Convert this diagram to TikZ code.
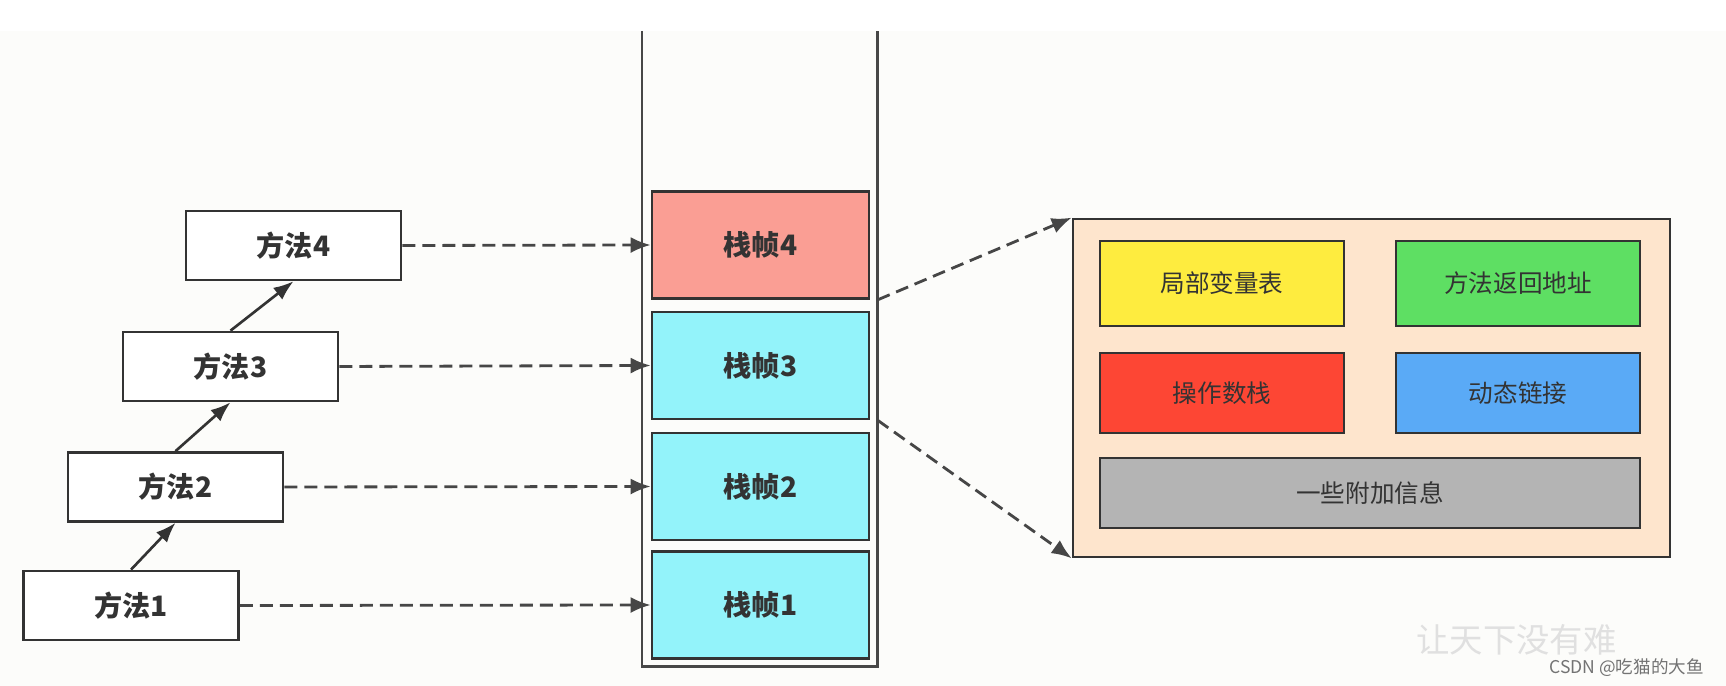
\documentclass[tikz,border=0pt]{standalone}
\usepackage{fontspec}
\newfontfamily\cjk{Noto Sans CJK SC}
\usetikzlibrary{arrows.meta,positioning,calc}
\definecolor{lineColor}{RGB}{51,51,51}
\definecolor{dashColor}{RGB}{70,70,70}
\definecolor{pageBg}{RGB}{252,252,250}
\definecolor{frameTop}{RGB}{250,158,148}
\definecolor{frameCyan}{RGB}{147,243,250}
\definecolor{panelBg}{RGB}{254,229,205}
\definecolor{localYellow}{RGB}{254,236,63}
\definecolor{returnGreen}{RGB}{94,223,99}
\definecolor{operandRed}{RGB}{253,70,52}
\definecolor{linkBlue}{RGB}{90,170,246}
\definecolor{extraGray}{RGB}{180,180,180}

\begin{document}
\begin{tikzpicture}[
  font=\cjk,
  methodbox/.style={draw=lineColor, fill=white, line width=1.5pt, minimum width=4.3cm, minimum height=1.38cm, font=\cjk\bfseries\fontsize{16}{18}\selectfont, text=lineColor},
  framebox/.style={draw=lineColor, line width=1.5pt, minimum width=4.34cm, minimum height=2.14cm, font=\cjk\bfseries\fontsize{16}{18}\selectfont, text=lineColor},
  slotbox/.style={draw=lineColor, line width=1.5pt, minimum width=4.88cm, minimum height=1.7cm, font=\cjk\fontsize{14}{16}\selectfont, text=lineColor},
  call/.style={-{Latex[length=4mm, width=3mm]}, line width=1.5pt, draw=lineColor},
  link/.style={-{Latex[length=4mm, width=3.2mm]}, line width=1.6pt, draw=dashColor, dash pattern=on 0.26cm off 0.14cm}
]
\useasboundingbox (0,0) rectangle (34.52,13.72);
\fill[white] (0,0) rectangle (34.52,13.72);
\fill[pageBg] (0,0) rectangle (34.52,13.10);

% Stack
\node[minimum width=4.7cm, minimum height=12.7cm, anchor=north west, inner sep=0pt] (stack) at (12.84,13.10) {};
\draw[draw=black!72, line width=1.4pt] (stack.north west) -- (stack.south west) -- (stack.south east) -- (stack.north east);

\node[framebox, fill=frameCyan] (f1) at (15.21,1.62) {栈帧1};
\node[framebox, fill=frameCyan] (f2) at (15.21,3.99) {栈帧2};
\node[framebox, fill=frameCyan] (f3) at (15.21,6.41) {栈帧3};
\node[framebox, fill=frameTop] (f4) at (15.21,8.82) {栈帧4};

% Methods
\node[methodbox] (m1) at (2.62,1.61) {方法1};
\node[methodbox] (m2) at (3.51,3.98) {方法2};
\node[methodbox] (m3) at (4.61,6.39) {方法3};
\node[methodbox] (m4) at (5.87,8.81) {方法4};

\draw[call] (m1.north) -- (m2.south);
\draw[call] (m2.north) -- (m3.south);
\draw[call] (m3.north) -- (m4.south);

\draw[link] (m1.east) -- (f1.west);
\draw[link] (m2.east) -- (f2.west);
\draw[link] (m3.east) -- (f3.west);
\draw[link] (m4.east) -- (f4.west);

% Frame detail
\node[draw=lineColor, fill=panelBg, line width=1.5pt, minimum width=11.94cm, minimum height=6.76cm] (info) at (27.43,5.96) {};

\node[slotbox, fill=localYellow] (local) at (24.44,8.05) {局部变量表};
\node[slotbox, fill=returnGreen] (ret) at (30.36,8.05) {方法返回地址};
\node[slotbox, fill=operandRed, minimum height=1.6cm] (opnd) at (24.44,5.86) {操作数栈};
\node[slotbox, fill=linkBlue, minimum height=1.6cm] (dyn) at (30.36,5.86) {动态链接};
\node[slotbox, fill=extraGray, minimum width=10.8cm, minimum height=1.4cm] (extra) at (27.40,3.86) {一些附加信息};

\coordinate (upper) at (stack.east |- f4.south);
\coordinate (lower) at (stack.east |- f3.south);
\draw[link] (upper) -- (info.north west);
\draw[link] (lower) -- (info.south west);

% Watermark
\node[font=\cjk\fontsize{19}{21}\selectfont, text=black!12, anchor=west] (mark) at (28.2,0.92) {让天下没有难};
\node[font=\cjk\fontsize{10}{12}\selectfont, text=black!55, anchor=east] (credit) at (34.2,0.36) {CSDN @吃猫的大鱼};

\end{tikzpicture}
\end{document}
